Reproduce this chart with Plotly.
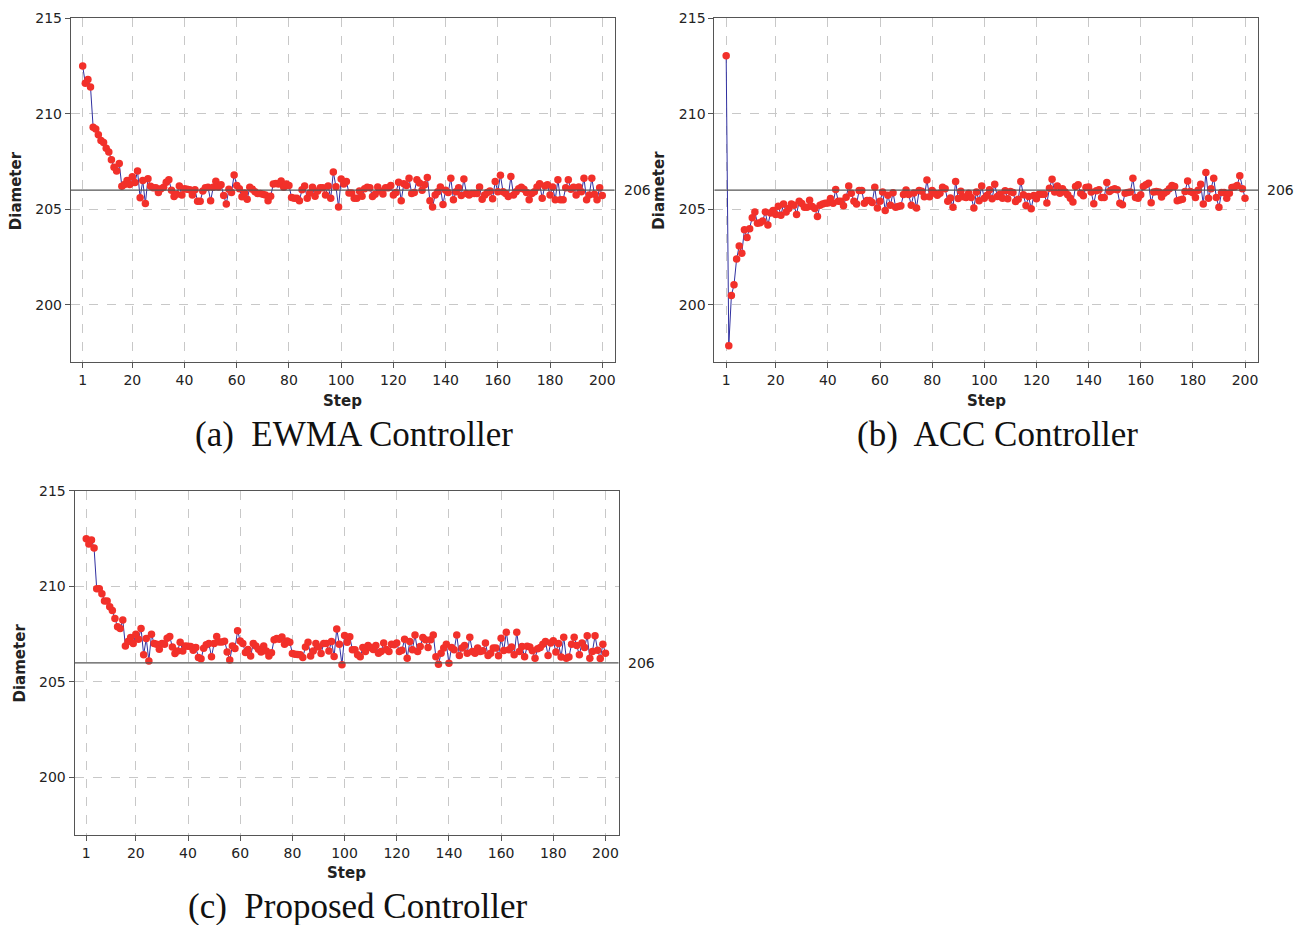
import plotly.graph_objects as go

ewma = [
    212.5, 211.6, 211.8, 211.4, 209.3, 209.2, 208.9, 208.6, 208.5, 208.2,
    208.0, 207.6, 207.2, 207.0, 207.4, 206.2, 206.3, 206.5, 206.3, 206.7,
    206.4, 207.0, 205.6, 206.5, 205.3, 206.6, 206.2,
    206.12, 206.12, 205.88, 206.08, 206.15, 206.42, 206.55, 206.0, 205.67, 205.78,
    206.22, 205.75, 206.08, 206.05, 206.02, 205.75, 206.02, 205.42, 205.42, 205.95,
    206.12, 206.15, 205.45, 206.15, 206.47, 206.17, 206.28, 205.72, 205.28, 206.05,
    205.88, 206.8, 206.25, 206.08, 205.65, 205.85, 205.52, 206.15, 206.05, 205.92,
    205.82, 205.82, 205.78, 205.75, 205.45, 205.68, 206.32, 206.35, 206.32, 206.48,
    206.15, 206.32, 206.25, 205.62, 205.58, 205.58, 205.45, 206.02, 206.22, 205.58,
    205.85, 206.15, 205.68, 205.95, 206.12, 206.12, 205.75, 206.22, 205.58, 206.95,
    206.18, 205.12, 206.58, 206.32, 206.45, 205.85, 205.85, 205.58, 205.58, 205.95,
    205.68, 206.08, 206.15,
    206.12, 205.67, 205.78, 206.17, 205.95, 205.8, 206.12, 206.12,
    206.25, 205.75, 205.88, 206.42, 205.45, 206.33, 206.25, 206.62, 205.83, 205.88,
    206.55, 206.38, 206.0, 206.28, 206.67, 205.45, 205.12, 205.75, 205.92, 206.17,
    205.25, 206.0, 205.88, 206.62, 205.5, 205.92, 206.12, 205.72, 206.58, 205.83,
    205.75, 205.83, 205.83, 205.83, 206.17, 205.53, 205.75, 205.88, 205.95, 205.55,
    206.45, 205.92, 206.78, 205.92, 205.83, 205.67, 206.72, 205.75, 205.92, 206.08,
    206.15, 206.05, 205.88, 205.5, 205.83, 205.92, 206.17, 206.33, 205.58, 206.22,
    206.28, 205.75, 206.17, 205.5, 206.55, 205.5, 205.5, 206.12, 206.55, 206.05,
    206.15, 205.75, 206.17, 205.92, 206.62, 205.5, 205.75, 206.62, 205.78, 205.5,
    206.12, 205.72,
]

acc = [
    213.04, 197.85, 200.48, 201.04, 202.39, 203.08, 202.70, 203.93, 203.52, 203.98,
    204.55, 204.86, 204.26, 204.29, 204.38, 204.86, 204.17, 204.80, 204.94, 204.73,
    205.16, 204.69, 205.28, 204.86, 205.04, 205.28, 205.21, 204.73, 205.42, 205.30,
    205.11, 205.11, 205.47, 205.14, 205.04, 204.62, 205.21, 205.28, 205.32, 205.33,
    205.56, 205.32, 206.03, 205.42, 205.42, 205.18, 205.63, 206.22, 205.84, 205.42,
    205.28, 205.98, 205.98, 205.32, 205.46, 205.46, 205.35, 206.15, 205.07, 205.42,
    205.91, 204.94, 205.73, 205.21, 205.87, 205.11, 205.14, 205.18, 205.77, 206.01,
    205.77, 205.21, 205.85, 205.07, 205.98, 205.94, 205.66, 206.53, 205.66, 205.98,
    205.84, 205.73, 205.84, 206.15, 206.08, 205.42, 205.59, 205.11, 206.46, 205.56,
    205.94, 205.66,
    205.62, 205.84, 205.62, 205.07, 205.9, 205.45, 206.22, 205.58, 205.72, 206.02,
    205.55, 206.31, 205.67, 205.79, 205.58, 205.97, 205.55, 205.93, 205.88, 205.41,
    205.52, 206.45, 205.76, 205.2, 205.67, 205.03, 205.72, 205.55, 205.79, 205.79,
    205.79, 205.33, 206.1, 206.57, 205.9, 206.22, 205.84, 206.07, 205.9, 205.76,
    205.58, 205.38, 206.19, 206.28, 205.84, 205.71, 206.14, 206.16, 205.9, 205.29,
    205.97, 206.02, 205.62, 205.62, 206.4, 205.93, 206.02, 206.07, 206.02, 205.31,
    205.24, 205.84, 205.88, 205.9, 206.62, 205.62, 205.58, 205.76, 206.19, 206.28,
    206.36, 205.34, 205.9, 205.93, 205.9, 205.64, 205.84, 205.93, 206.07, 206.24,
    206.19, 205.45, 205.48, 205.52, 205.93, 206.48, 205.93, 205.86, 205.62, 206.0,
    206.31, 205.27, 206.93, 205.58, 206.07, 206.62, 205.62, 205.1, 205.88, 205.88,
    205.58, 205.84, 206.14, 206.17, 206.24, 206.76, 206.07, 205.58,
]

proposed = [
    212.49, 212.21, 212.43, 212.0, 209.88, 209.88, 209.61, 209.23, 209.23, 208.93,
    208.74, 208.32, 207.89, 207.80, 208.24, 206.88, 207.11, 207.32, 207.01, 207.49,
    207.23, 207.80, 206.42, 207.27, 206.10, 207.49, 207.01, 206.97, 206.71, 207.01,
    206.97, 207.28, 207.37, 206.83, 206.49, 206.62, 207.08, 206.62, 206.88, 206.87,
    206.85, 206.66, 206.80, 206.28, 206.21, 206.76, 206.94, 207.01, 206.31, 207.01,
    207.37, 207.09, 207.09, 207.13, 206.57, 206.14, 206.88, 206.75, 207.68, 207.14,
    207.01, 206.54, 206.69, 206.35, 207.01, 206.88, 206.71, 206.57, 206.88, 206.62,
    206.35, 206.52, 207.21, 207.27, 207.23, 207.35, 206.97, 207.14, 207.08, 206.49,
    206.45, 206.43, 206.42, 206.28, 206.83, 207.08, 206.35, 206.62, 207.01, 206.83,
    206.49, 207.01, 207.01, 206.62,
    207.11, 206.33, 207.77, 206.97, 205.90, 207.43, 207.08, 207.36, 206.68, 206.68,
    206.42, 206.31, 206.80, 206.59, 206.90, 206.80, 206.70, 206.90, 206.50, 206.59,
    207.04, 206.70, 206.59, 206.97, 206.94, 207.03, 206.59, 206.66, 207.23, 206.24,
    207.11, 206.68, 207.46, 206.59, 206.85, 207.32, 207.20, 206.80, 207.20, 207.46,
    206.31, 205.93, 206.50, 206.77, 206.97, 205.97, 206.80, 206.68, 207.46, 206.38,
    206.77, 206.90, 206.50, 207.34, 206.59, 206.50, 206.77, 206.59, 206.63, 207.03,
    206.38, 206.50, 206.77, 206.77, 206.37, 207.29, 206.64, 207.60, 206.68, 206.83,
    206.42, 207.60, 206.59, 206.85, 206.31, 206.87, 206.83, 206.63, 206.24, 206.73,
    206.80, 206.97, 207.11, 206.38, 207.03, 207.15, 206.56, 207.01, 206.30, 207.34,
    206.24, 206.30, 206.97, 207.34, 206.90, 206.42, 207.04, 206.80, 207.41, 206.24,
    206.59, 207.41, 206.66, 206.23, 206.97, 206.50,
]

target = 206
x_ticks = [1, 20, 40, 60, 80, 100, 120, 140, 160, 180, 200]
y_ticks = [200, 205, 210, 215]
captions = ["(a)  EWMA Controller", "(b)  ACC Controller", "(c)  Proposed Controller"]

W, H = 1304, 925
# panel pixel boxes: left, right, top, bottom
boxes = [(71, 615, 10.5, 357), (715, 1259, 10.5, 357), (74.7, 619, 487, 834)]
xranges = [[-3.5, 204.7], [-3.5, 205.0], [-3.45, 205.0]]
caption_pos = [(354, 430), (998, 430), (358, 906)]
series = [ewma, acc, proposed]

fig = go.Figure()
tick_font = dict(family="DejaVu Sans, Verdana, sans-serif", size=14, color="#222")
for i, (ys, box) in enumerate(zip(series, boxes)):
    n = i + 1
    xs = list(range(1, len(ys) + 1))
    xa = "x" if n == 1 else f"x{n}"
    ya = "y" if n == 1 else f"y{n}"
    fig.add_trace(go.Scatter(
        x=xs, y=ys, mode="lines+markers", xaxis=xa, yaxis=ya,
        line=dict(color="#3030a0", width=1),
        marker=dict(color="#f2302a", size=7.5, line=dict(width=0)),
        showlegend=False, hoverinfo="skip"))
    l, r, t, b = box
    axcommon = dict(showline=True, linecolor="#555", linewidth=1.2, mirror=True,
                    showgrid=True, gridcolor="#c8c8c8", griddash="dash", gridwidth=1,
                    zeroline=False, ticks="outside", ticklen=5, tickcolor="#555",
                    tickfont=tick_font)
    fig.update_layout(**{
        ("xaxis" if n == 1 else f"xaxis{n}"): dict(
            domain=[l / W, r / W], anchor=ya, range=xranges[i],
            tickmode="array", tickvals=x_ticks, **axcommon),
        ("yaxis" if n == 1 else f"yaxis{n}"): dict(
            domain=[1 - b / H, 1 - t / H], anchor=xa, range=[197.0, 215.0],
            tickmode="array", tickvals=y_ticks, **axcommon),
    })
    fig.add_shape(type="line", xref=f"{xa} domain", yref=ya, x0=0, x1=1,
                  y0=target, y1=target, line=dict(color="#555", width=1.2))
    fig.add_annotation(xref=f"{xa} domain", yref=ya, x=1, y=target, xshift=7,
                       xanchor="left", yanchor="middle", text=str(target),
                       showarrow=False, font=tick_font)
    fig.add_annotation(xref="paper", yref="paper", x=(l - 55) / W, y=1 - (t + b) / 2 / H,
                       text="<b>Diameter</b>", textangle=-90, showarrow=False,
                       xanchor="center", yanchor="middle",
                       font=dict(family="DejaVu Sans, Verdana, sans-serif", size=15, color="#222"))
    fig.add_annotation(xref="paper", yref="paper", x=(l + r) / 2 / W, y=1 - (b + 39) / H,
                       text="<b>Step</b>", showarrow=False,
                       xanchor="center", yanchor="middle",
                       font=dict(family="DejaVu Sans, Verdana, sans-serif", size=15, color="#222"))
    cx, cy = caption_pos[i]
    fig.add_annotation(xref="paper", yref="paper", x=cx / W, y=1 - cy / H,
                       text=captions[i], showarrow=False,
                       xanchor="center", yanchor="middle",
                       font=dict(family="Liberation Serif, Times New Roman, serif", size=35, color="#111"))

fig.update_layout(width=W, height=H, margin=dict(l=0, r=0, t=0, b=0),
                  paper_bgcolor="white", plot_bgcolor="white")
fig.write_html("out.html", config={"displayModeBar": False},
               post_script="document.body.style.margin='0';document.body.style.overflow='hidden';")
